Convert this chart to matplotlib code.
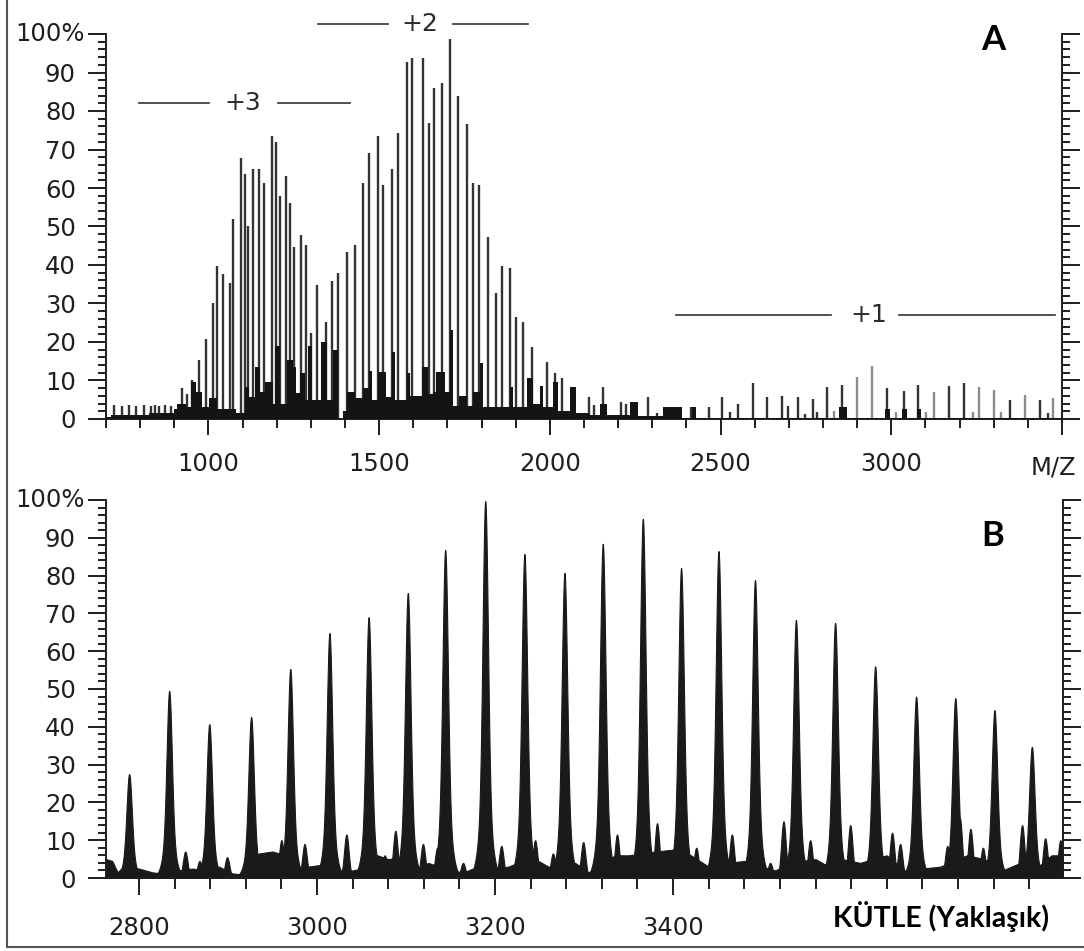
import numpy as np
import matplotlib
matplotlib.use('Agg')
import matplotlib.pyplot as plt
from matplotlib.lines import Line2D
from matplotlib.ticker import MultipleLocator, FixedLocator

plt.rcParams['font.family'] = ['DejaVu Sans']

# ---------------- Panel A : m/z spectrum (stick peaks) ----------------
stick_mz = [724, 747, 768, 789, 812, 833, 844, 856, 874, 891,
            924, 938, 953, 971, 994, 1012, 1026, 1044, 1062, 1073,
            1094, 1106, 1115, 1132, 1147, 1164, 1185, 1197, 1209, 1226,
            1238, 1250, 1270, 1285, 1300, 1317, 1344, 1361, 1379, 1405,
            1429, 1452, 1470, 1496, 1511, 1537, 1555, 1581, 1596, 1628,
            1646, 1661, 1684, 1708, 1731, 1758, 1775, 1793, 1819, 1843,
            1860, 1884, 1902, 1922, 1949, 1993, 2016, 2037, 2116, 2128,
            2157, 2207, 2222, 2286, 2313, 2413, 2466, 2504, 2527, 2551,
            2595, 2636, 2680, 2698, 2727, 2747, 2771, 2783, 2812, 2856,
            2988, 3038, 3079, 3170, 3214, 3349, 3435, 3458]
stick_int = [3.6, 3.4, 3.6, 3.5, 3.6, 3.4, 3.6, 3.5, 3.6, 3.4,
             8.0, 6.5, 10.0, 15.4, 20.7, 30.0, 39.7, 37.7, 35.4, 52.0,
             67.9, 63.6, 50.0, 65.0, 65.0, 61.4, 73.4, 72.0, 58.0, 63.0,
             56.0, 44.6, 47.8, 45.2, 22.4, 34.8, 25.2, 35.8, 38.0, 43.4,
             45.2, 61.4, 69.0, 73.4, 60.8, 65.0, 74.2, 92.7, 93.8, 93.8,
             76.9, 86.0, 87.3, 98.7, 84.0, 76.6, 61.3, 60.8, 47.3, 32.7,
             39.7, 39.2, 26.5, 25.2, 18.7, 14.8, 12.0, 10.6, 5.7, 3.6,
             8.3, 4.4, 4.0, 5.7, 1.5, 3.1, 3.1, 5.7, 1.8, 3.9,
             9.4, 5.7, 6.1, 3.3, 5.7, 1.3, 5.3, 1.8, 8.3, 8.8,
             8.0, 7.4, 8.8, 8.6, 9.4, 5.0, 5.0, 1.5]
gray_mz = [2833, 2900, 2944, 3015, 3103, 3126, 3238, 3258, 3302, 3320, 3391, 3473]
gray_int = [2.0, 11.0, 13.8, 1.8, 1.8, 7.0, 1.8, 8.3, 7.5, 1.8, 6.3, 5.5]

# unresolved background signal (step profile: edges in m/z, level in %)
bg_edges_mz = [700, 715, 827, 900, 909, 935, 950, 965, 982, 1003,
               1026, 1082, 1106, 1120, 1135, 1150, 1167, 1188, 1194, 1209,
               1229, 1247, 1256, 1267, 1282, 1291, 1303, 1329, 1347, 1364,
               1379, 1394, 1405, 1429, 1452, 1470, 1479, 1496, 1520, 1537,
               1546, 1582, 1590, 1626, 1643, 1658, 1667, 1693, 1708, 1717,
               1734, 1758, 1775, 1796, 1805, 1884, 1893, 1934, 1952, 1972,
               1981, 2010, 2025, 2060, 2078, 2119, 2148, 2166, 2236, 2257,
               2330, 2386, 2416, 2427, 2847, 2871, 2982, 2997, 3032, 3047,
               3074, 3088, 3500]
bg_int = [0.5, 1.0, 1.5, 2.5, 4.0, 3.0, 9.5, 7.0, 3.0, 5.5,
          2.5, 1.5, 8.3, 5.6, 13.5, 7.0, 9.5, 4.0, 19.0, 4.0,
          15.3, 13.5, 6.7, 12.0, 5.0, 19.0, 5.0, 20.0, 5.0, 18.0,
          0.0, 2.0, 7.0, 5.4, 8.0, 12.5, 5.0, 12.2, 5.7, 17.4,
          5.0, 12.0, 6.0, 13.5, 6.5, 7.0, 12.2, 7.0, 23.0, 3.5,
          6.0, 3.5, 7.0, 14.5, 3.0, 8.3, 3.0, 10.6, 4.0, 8.6,
          3.0, 9.6, 2.0, 8.3, 1.5, 1.0, 4.0, 1.0, 4.4, 0.8,
          3.2, 0.3, 3.0, 0.2, 3.0, 0.2, 2.5, 0.2, 2.5, 0.2,
          2.5, 0.2]

charge_labels = ['+3', '+2', '+1']
a_xticks = [1000, 1500, 2000, 2500, 3000, 3500]
a_xticklabels = ['1000', '1500', '2000', '2500', '3000', '']

# ---------------- Panel B : deconvoluted mass spectrum ----------------
peak_mass = [2789, 2834, 2879, 2926, 2970, 3014, 3058, 3102, 3144, 3189,
             3233, 3278, 3321, 3366, 3409, 3451, 3492, 3538, 3582, 3627,
             3673, 3717, 3761, 3803]
peak_int = [27.5, 49.5, 40.7, 42.6, 55.3, 64.8, 69.0, 75.4, 86.8, 99.7,
            85.7, 80.7, 88.4, 95.0, 82.0, 86.5, 78.8, 68.3, 67.5, 56.0,
            48.0, 47.6, 44.4, 34.7]
minor_mass = [2852, 2868, 2899, 2960, 2986, 3033, 3076, 3088, 3119, 3135,
              3164, 3207, 3245, 3265, 3299, 3337, 3352, 3382, 3426, 3466,
              3509, 3524, 3554, 3599, 3646, 3655, 3708, 3722, 3734, 3748,
              3792, 3818, 3835]
minor_int = [7.0, 4.5, 5.5, 10.0, 9.0, 11.5, 6.0, 12.5, 9.0, 8.0,
             4.0, 8.5, 10.0, 6.5, 9.5, 11.5, 6.0, 14.5, 8.0, 11.5,
             4.0, 15.0, 10.0, 14.0, 12.0, 9.0, 8.5, 16.0, 13.0, 8.0,
             14.0, 10.5, 10.0]
base_mass = [2763, 2770, 2776, 2782, 2800, 2815, 2825, 2845, 2860, 2875,
             2890, 2905, 2915, 2935, 2950, 2965, 2978, 2990, 3005, 3025,
             3040, 3050, 3068, 3080, 3095, 3110, 3125, 3150, 3165, 3180,
             3200, 3215, 3225, 3245, 3260, 3290, 3305, 3315, 3335, 3350,
             3380, 3400, 3420, 3440, 3460, 3480, 3500, 3515, 3530, 3560,
             3575, 3590, 3610, 3640, 3660, 3680, 3700, 3730, 3750, 3770,
             3790, 3810, 3825, 3838]
base_int = [5.0, 4.5, 1.5, 3.0, 2.5, 1.5, 1.2, 2.0, 2.5, 2.0,
            3.0, 1.2, 1.0, 6.5, 7.0, 6.0, 2.5, 3.0, 3.5, 2.0,
            2.0, 2.5, 6.0, 5.0, 5.5, 2.0, 4.0, 2.0, 1.5, 3.0,
            2.5, 3.0, 4.0, 5.0, 3.0, 4.0, 1.5, 3.0, 6.0, 6.0,
            7.0, 7.5, 6.0, 3.0, 4.0, 4.5, 3.0, 2.0, 4.0, 5.0,
            3.0, 5.0, 4.0, 6.0, 2.0, 2.5, 3.0, 6.0, 5.0, 2.0,
            4.0, 3.0, 6.0, 6.0]
b_xticks = [2800, 3000, 3200, 3400]
b_xticklabels = ['2800', '3000', '3200', '3400']

# ---------------- figure ----------------
W, H = 1084, 951
fig = plt.figure(figsize=(W / 100, H / 100), dpi=100)


def px_axes(l, t, r, b):
    return fig.add_axes([l / W, 1 - b / H, (r - l) / W, (b - t) / H])


axA = px_axes(106, 34, 1062, 419)
axB = px_axes(106, 500, 1063, 878)

ink = '#1e1e1e'
tick_fs = 17.5

for ax in (axA, axB):
    ax.set_ylim(0, 100)
    ax.spines['top'].set_visible(False)
    for s in ('left', 'right', 'bottom'):
        ax.spines[s].set_linewidth(1.4)
        ax.spines[s].set_color(ink)
    ax.yaxis.set_major_locator(MultipleLocator(10))
    ax.yaxis.set_minor_locator(MultipleLocator(2))
    ax.tick_params(axis='y', which='both', left=True, right=True,
                   labelleft=True, labelright=False, direction='out',
                   width=1.4, color=ink)
    ax.tick_params(axis='y', which='major', length=13, pad=8.6,
                   labelsize=tick_fs, labelcolor=ink)
    ax.tick_params(axis='y', which='minor', length=5.8)
    ax.set_yticks(range(0, 101, 10))
    ax.set_yticklabels(['0', '10', '20', '30', '40', '50', '60', '70', '80', '90', ''])
    ax.annotate('100%', xy=(0, 100), xycoords=('axes fraction', 'data'),
                xytext=(-15.5, 0), textcoords='offset points',
                ha='right', va='center', fontsize=tick_fs, color=ink,
                annotation_clip=False)

# Panel A
axA.set_xlim(700, 3500)
axA.vlines(stick_mz, 0, stick_int, color='#333333', lw=1.7, zorder=2)
axA.vlines(gray_mz, 0, gray_int, color='#8c8c8c', lw=1.7, zorder=2)
axA.fill_between(bg_edges_mz, list(bg_int) + [bg_int[-1]], step='post',
                 color='#141414', lw=0, zorder=3)
axA.xaxis.set_major_locator(FixedLocator(a_xticks))
axA.xaxis.set_minor_locator(MultipleLocator(100))
axA.set_xticklabels(a_xticklabels)
axA.tick_params(axis='x', which='both', direction='out', width=1.4, color=ink)
axA.tick_params(axis='x', which='major', length=11.5, pad=12,
                labelsize=tick_fs, labelcolor=ink)
axA.tick_params(axis='x', which='minor', length=6.5)
axA.text(3476, -0.125, 'M/Z', transform=axA.get_xaxis_transform(),
         ha='center', va='center', fontsize=tick_fs, color=ink)

# charge-state annotations
ann_specs = [(charge_labels[0], 1100, 82.1, (797, 1003), (1203, 1414)),
             (charge_labels[1], 1620, 102.6, (1320, 1526), (1717, 1937)),
             (charge_labels[2], 2935, 27.0, (2369, 2824), (3023, 3479))]
for lab, xm, yv, l1, l2 in ann_specs:
    axA.text(xm, yv, lab, ha='center', va='center', fontsize=18,
             color='#2a2a2a', clip_on=False)
    for seg in (l1, l2):
        axA.plot(seg, [yv, yv], color='#333333', lw=1.2, clip_on=False)

# Panel B
axB.set_xlim(2763, 3838)
grid = np.linspace(2763, 3838, 6000)
floor = np.interp(grid, base_mass, base_int)
for m, h in zip(minor_mass, minor_int):
    floor = np.maximum(floor, h * np.exp(-0.5 * ((grid - m) / 2.6) ** 2))
profile = floor.copy()
for m, h in zip(peak_mass, peak_int):
    shape = 0.8 * np.exp(-0.5 * ((grid - m) / 2.9) ** 2) + \
        0.2 * np.exp(-0.5 * ((grid - m) / 6.5) ** 2)
    profile = np.maximum(profile, h * shape)
axB.fill_between(grid, 0, profile, color='#1a1a1a', lw=0.8,
                 edgecolor='#1a1a1a', zorder=2)
axB.xaxis.set_major_locator(FixedLocator(b_xticks))
axB.xaxis.set_minor_locator(FixedLocator(list(range(2800, 3801, 40))))
axB.set_xticklabels(b_xticklabels)
axB.tick_params(axis='x', which='both', direction='out', width=1.4, color=ink)
axB.tick_params(axis='x', which='major', length=12, pad=15.5,
                labelsize=tick_fs, labelcolor=ink)
axB.tick_params(axis='x', which='minor', length=8)

# panel letters and mass label
fig.text(993 / W, 1 - 40 / H, 'A', ha='center', va='center', fontsize=25,
         fontweight='bold', family=['Lato', 'DejaVu Sans'], color='black')
fig.text(993 / W, 1 - 536 / H, 'B', ha='center', va='center', fontsize=25,
         fontweight='bold', family=['Lato', 'DejaVu Sans'], color='black')
fig.text(941 / W, 1 - 917 / H, 'KÜTLE (Yaklaşık)', ha='center', va='center',
         fontsize=20.5, fontweight='bold', family=['Lato', 'DejaVu Sans'],
         color='black')

# outer frame
fig.add_artist(Line2D([7 / W, 7 / W], [1 - 947 / H, 1.0], transform=fig.transFigure,
                      color='#555555', lw=1.5))
fig.add_artist(Line2D([7 / W, 1.0], [1 - 947 / H, 1 - 947 / H], transform=fig.transFigure,
                      color='#555555', lw=1.5))

fig.savefig('out.png', dpi=100)
